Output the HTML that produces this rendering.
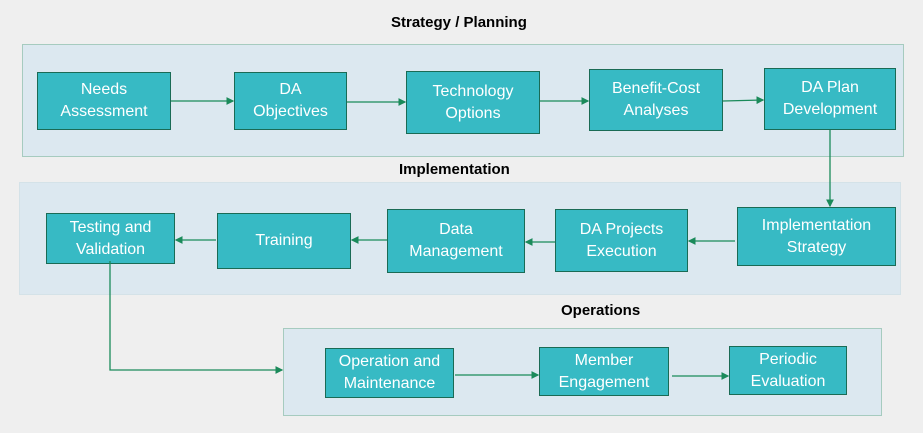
<!DOCTYPE html>
<html><head><style>
body{margin:0;width:923px;height:433px;background:#efefef;position:relative;overflow:hidden;font-family:"Liberation Sans",sans-serif}
.p{position:absolute;background:#dce8f0;border:1.5px solid #a6cbbf;box-sizing:border-box}
.b{position:absolute;background:#37bac4;border:1.5px solid #1a6b55;box-sizing:border-box;color:#fff;font-size:16px;line-height:22px;display:flex;align-items:center;justify-content:center;text-align:center}
.t{position:absolute;font-weight:bold;font-size:15px;color:#000}
svg{position:absolute;left:0;top:0}
</style></head><body>
<div class="t" style="left:391px;top:14px">Strategy / Planning</div>
<div class="p" style="left:22px;top:44px;width:882px;height:113px"></div>
<div class="t" style="left:399px;top:161px">Implementation</div>
<div class="p" style="left:19px;top:182px;width:882px;height:113px;border-color:#d4e2e8"></div>
<div class="t" style="left:561px;top:302px">Operations</div>
<div class="p" style="left:283px;top:328px;width:599px;height:88px"></div>

<div class="b" style="left:37px;top:72px;width:134px;height:58px">Needs<br>Assessment</div>
<div class="b" style="left:234px;top:72px;width:113px;height:58px">DA<br>Objectives</div>
<div class="b" style="left:406px;top:71px;width:134px;height:63px">Technology<br>Options</div>
<div class="b" style="left:589px;top:69px;width:134px;height:62px">Benefit-Cost<br>Analyses</div>
<div class="b" style="left:764px;top:68px;width:132px;height:62px">DA Plan<br>Development</div>

<div class="b" style="left:46px;top:213px;width:129px;height:51px">Testing and<br>Validation</div>
<div class="b" style="left:217px;top:213px;width:134px;height:56px">Training</div>
<div class="b" style="left:387px;top:209px;width:138px;height:64px">Data<br>Management</div>
<div class="b" style="left:555px;top:209px;width:133px;height:63px">DA Projects<br>Execution</div>
<div class="b" style="left:737px;top:207px;width:159px;height:59px">Implementation<br>Strategy</div>

<div class="b" style="left:325px;top:348px;width:129px;height:50px">Operation and<br>Maintenance</div>
<div class="b" style="left:539px;top:347px;width:130px;height:49px">Member<br>Engagement</div>
<div class="b" style="left:729px;top:346px;width:118px;height:49px">Periodic<br>Evaluation</div>

<svg width="923" height="433">
<defs><marker id="a" markerWidth="6" markerHeight="6" refX="5" refY="3" orient="auto"><path d="M0,0L6,3L0,6z" fill="#1a8a5a"/></marker></defs>
<g stroke="#1a8a5a" stroke-width="1.3" fill="none" marker-end="url(#a)">
<line x1="171" y1="101" x2="233" y2="101"/>
<line x1="347" y1="102" x2="405" y2="102"/>
<line x1="540" y1="101" x2="588" y2="101"/>
<line x1="723" y1="101" x2="763" y2="100"/>
<line x1="830" y1="130" x2="830" y2="206"/>
<line x1="735" y1="241" x2="689" y2="241"/>
<line x1="555" y1="242" x2="526" y2="242"/>
<line x1="387" y1="240" x2="352" y2="240"/>
<line x1="216" y1="240" x2="176" y2="240"/>
<polyline points="110,261 110,370 282,370"/>
<line x1="455" y1="375" x2="538" y2="375"/>
<line x1="672" y1="376" x2="728" y2="376"/>
</g>
</svg>
</body></html>
